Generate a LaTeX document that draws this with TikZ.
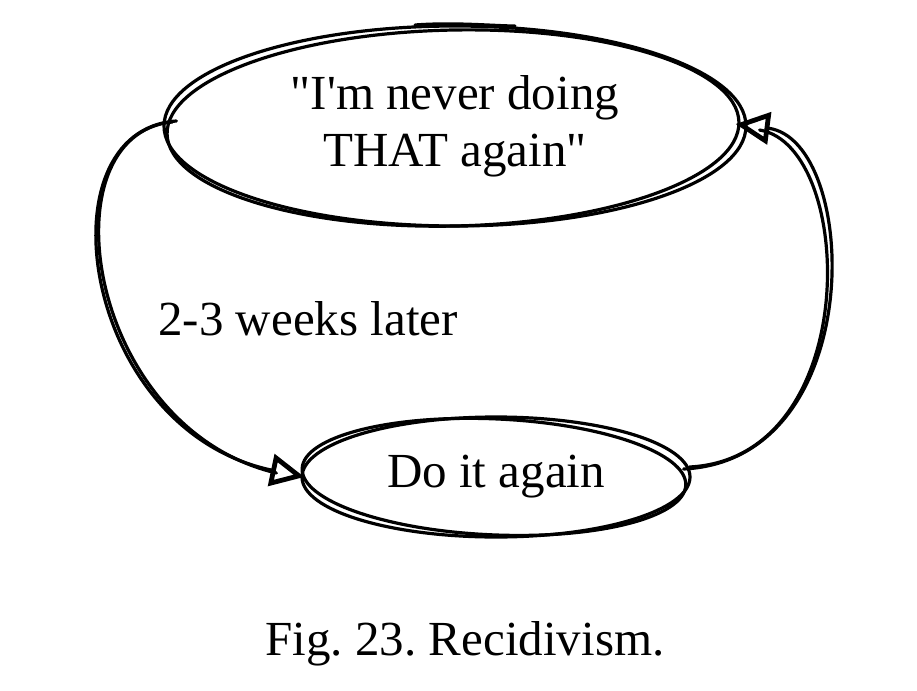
\documentclass[tikz,border=0pt]{standalone}
\usepackage{fontspec}
\setmainfont{Liberation Serif}[Ligatures=TeXOff]
\usetikzlibrary{shapes.geometric,arrows.meta}

\tikzset{
  sketch/.style={line width=1.6pt, line cap=round, line join=round},
  bubble/.style={ellipse, draw, sketch, inner sep=0pt, align=center},
  loop/.style={sketch, -{Triangle[open, length=17pt, width=16pt, line width=2.4pt]}},
  words/.style={font=\fontsize{24.5}{28.5}\selectfont}
}

\begin{document}
\frenchspacing
\begin{tikzpicture}[x=0.5pt, y=-0.5pt, words]
\useasboundingbox (0,0) rectangle (917,691);

\node[bubble, minimum width=291pt, minimum height=100pt] (never) at (455,126)
  {"I'm never doing\\THAT again"};
\draw[sketch, rotate around={1.2:(never.center)}] ([xshift=-1pt,yshift=-1pt]never.center) ellipse [x radius=143pt, y radius=49pt];
\draw[sketch] ([xshift=-20pt,yshift=50.5pt]never.center) .. controls +(20pt,1.5pt) and +(-10pt,0pt) .. ([xshift=30pt,yshift=50pt]never.center);

\node[bubble, minimum width=194pt, minimum height=60pt] (again) at (496,477) {Do it again};
\draw[sketch, rotate around={-2.5:(again.center)}] ([xshift=-1pt]again.center) ellipse [x radius=96pt, y radius=29pt];

% the loop
\draw[loop] ([xshift=7pt,yshift=2.5pt]never.west) .. controls (40,130) and (80,430) .. ([xshift=2pt]again.west);
\draw[sketch] ([xshift=5pt,yshift=2pt]never.west) .. controls (44,134) and (86,428) .. ([xshift=-12pt,yshift=2pt]again.west);
\draw[loop] ([xshift=-4pt,yshift=4pt]again.east) .. controls (870,460) and (860,140) .. ([xshift=-6pt,yshift=1pt]never.east);
\draw[sketch] ([xshift=-1pt,yshift=5pt]again.east) .. controls (864,458) and (856,146) .. ([xshift=6pt,yshift=-2pt]never.east);

\node[anchor=base west, inner sep=0pt] (later) at (158,335) {2-3 weeks later};
\node[anchor=base, inner sep=0pt] (caption) at (465,655) {Fig. 23. Recidivism.};
\end{tikzpicture}
\end{document}
